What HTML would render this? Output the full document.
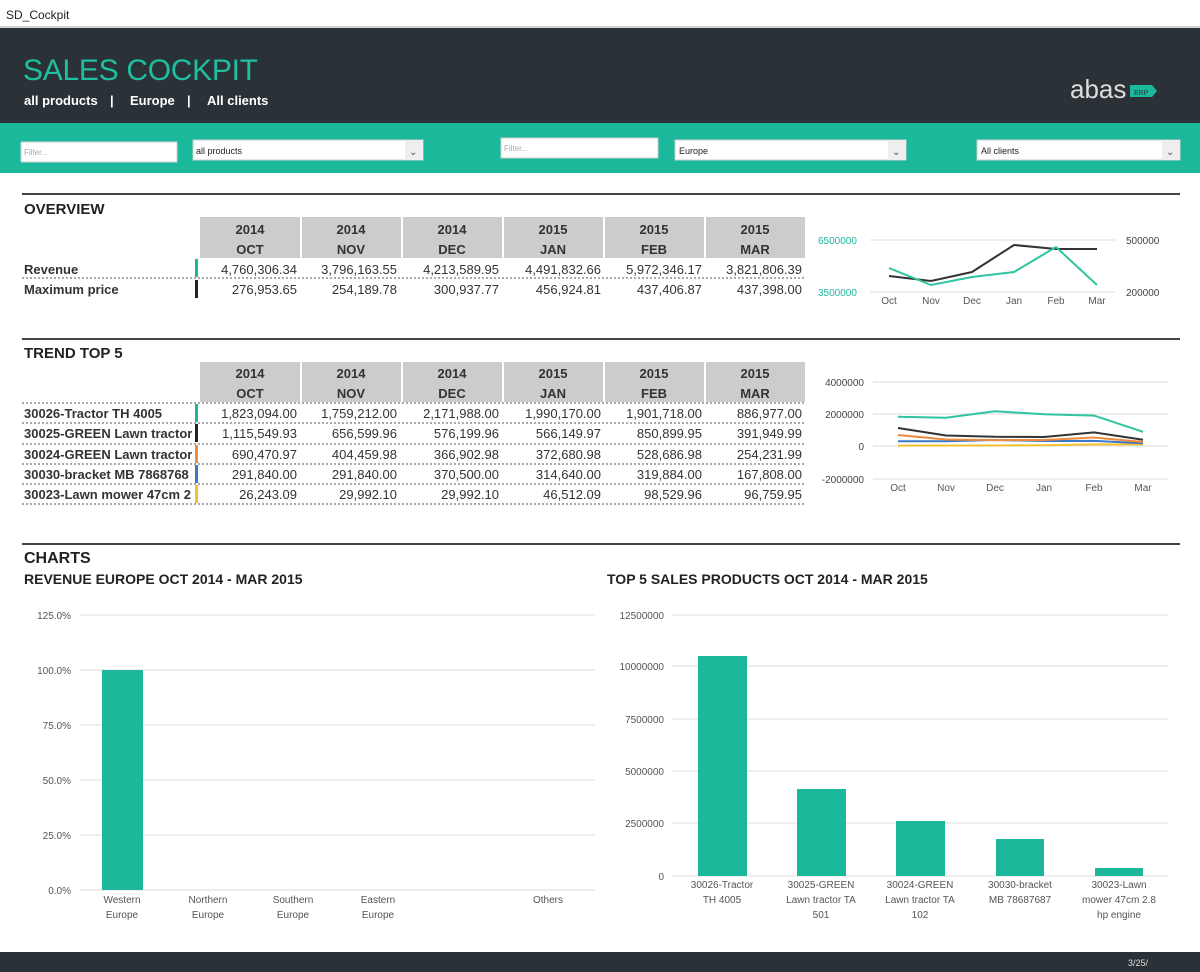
<!DOCTYPE html>
<html><head><meta charset="utf-8"><style>
html,body{margin:0;padding:0;background:#fff;}
svg{display:block;font-family:"Liberation Sans",Arial,sans-serif;}
</style></head><body>
<svg width="1200" height="972" viewBox="0 0 1200 972" xmlns="http://www.w3.org/2000/svg">
<rect x="0" y="0" width="1200" height="27" fill="#fff"/>
<line x1="0" y1="27" x2="1200" y2="27" stroke="#aaa"/>
<text x="6" y="19" font-size="12" fill="#222">SD_Cockpit</text>
<rect x="0" y="28" width="1200" height="95" fill="#2b3237"/>
<text x="23" y="80" font-size="30" fill="#1fbfa0" textLength="235">SALES COCKPIT</text>
<g font-size="13" font-weight="bold" fill="#fff">
<text x="24" y="105">all products</text><text x="110" y="105">|</text><text x="130" y="105">Europe</text><text x="187" y="105">|</text><text x="207" y="105">All clients</text>
</g>
<text x="1070" y="98" font-size="26" fill="#ddd">abas</text>
<path d="M1130 85 h22 l5 6 l-5 6 h-22 z" fill="#1cb89c"/>
<text x="1134" y="95" font-size="7" fill="#2b3237">ERP</text>
<rect x="0" y="123" width="1200" height="50" fill="#1cb89c"/>
<rect x="21" y="142" width="156" height="20" fill="#fff" stroke="#ccc"/>
<text x="24" y="155" font-size="8" fill="#aaa">Filter...</text>
<rect x="193" y="140" width="230" height="20" fill="#fff" stroke="#ccc"/>
<rect x="405" y="140" width="18" height="20" fill="#eee"/><text x="409" y="155" font-size="10" fill="#555">⌄</text>
<text x="196" y="154" font-size="9" fill="#222">all products</text>
<rect x="501" y="138" width="157" height="20" fill="#fff" stroke="#ccc"/>
<text x="504" y="151" font-size="8" fill="#aaa">Filter...</text>
<rect x="675" y="140" width="231" height="20" fill="#fff" stroke="#ccc"/>
<rect x="888" y="140" width="18" height="20" fill="#eee"/><text x="892" y="155" font-size="10" fill="#555">⌄</text>
<text x="679" y="154" font-size="9" fill="#222">Europe</text>
<rect x="977" y="140" width="203" height="20" fill="#fff" stroke="#ccc"/>
<rect x="1162" y="140" width="18" height="20" fill="#eee"/><text x="1166" y="155" font-size="10" fill="#555">⌄</text>
<text x="981" y="154" font-size="9" fill="#222">All clients</text>

<line x1="22" y1="194" x2="1180" y2="194" stroke="#444" stroke-width="2"/>
<text x="24" y="214" font-size="15" font-weight="bold" fill="#222">OVERVIEW</text>
<g fill="#ccc">
<rect x="200" y="217" width="100" height="41"/><rect x="302" y="217" width="99" height="41"/><rect x="403" y="217" width="99" height="41"/><rect x="504" y="217" width="99" height="41"/><rect x="605" y="217" width="99" height="41"/><rect x="706" y="217" width="99" height="41"/>
<rect x="200" y="362" width="100" height="40"/><rect x="302" y="362" width="99" height="40"/><rect x="403" y="362" width="99" height="40"/><rect x="504" y="362" width="99" height="40"/><rect x="605" y="362" width="99" height="40"/><rect x="706" y="362" width="99" height="40"/>
</g>
<g font-size="13" font-weight="bold" fill="#333" text-anchor="middle">
<text x="250" y="234">2014</text><text x="351" y="234">2014</text><text x="452" y="234">2014</text><text x="553" y="234">2015</text><text x="654" y="234">2015</text><text x="755" y="234">2015</text>
<text x="250" y="254">OCT</text><text x="351" y="254">NOV</text><text x="452" y="254">DEC</text><text x="553" y="254">JAN</text><text x="654" y="254">FEB</text><text x="755" y="254">MAR</text>
<text x="250" y="378">2014</text><text x="351" y="378">2014</text><text x="452" y="378">2014</text><text x="553" y="378">2015</text><text x="654" y="378">2015</text><text x="755" y="378">2015</text>
<text x="250" y="398">OCT</text><text x="351" y="398">NOV</text><text x="452" y="398">DEC</text><text x="553" y="398">JAN</text><text x="654" y="398">FEB</text><text x="755" y="398">MAR</text>
</g>
<g font-size="13" font-weight="bold" fill="#333">
<text x="24" y="274">Revenue</text><text x="24" y="294">Maximum price</text>
</g>
<rect x="195" y="259" width="3" height="18" fill="#1cb89c"/><rect x="195" y="280" width="3" height="18" fill="#222"/>
<line x1="22" y1="278" x2="805" y2="278" stroke="#555" stroke-dasharray="2,2"/>
<g font-size="13" fill="#333" text-anchor="end">
<text x="297" y="274">4,760,306.34</text><text x="397" y="274">3,796,163.55</text><text x="499" y="274">4,213,589.95</text><text x="601" y="274">4,491,832.66</text><text x="702" y="274">5,972,346.17</text><text x="802" y="274">3,821,806.39</text>
<text x="297" y="294">276,953.65</text><text x="397" y="294">254,189.78</text><text x="499" y="294">300,937.77</text><text x="601" y="294">456,924.81</text><text x="702" y="294">437,406.87</text><text x="802" y="294">437,398.00</text>
</g>
<line x1="870" y1="240" x2="1115" y2="240" stroke="#ddd"/>
<line x1="870" y1="292" x2="1115" y2="292" stroke="#ddd"/>
<text x="818" y="244" font-size="10" fill="#1cb89c">6500000</text>
<text x="818" y="296" font-size="10" fill="#1cb89c">3500000</text>
<text x="1126" y="244" font-size="10" fill="#444">500000</text>
<text x="1126" y="296" font-size="10" fill="#444">200000</text>
<g font-size="10" fill="#555" text-anchor="middle">
<text x="889" y="304">Oct</text><text x="931" y="304">Nov</text><text x="972" y="304">Dec</text><text x="1014" y="304">Jan</text><text x="1056" y="304">Feb</text><text x="1097" y="304">Mar</text>
</g>
<polyline points="889,276 931,281 972,272 1014,245 1056,249 1097,249" fill="none" stroke="#333" stroke-width="2"/>
<polyline points="889,268 931,285 972,277 1014,272 1056,247 1097,285" fill="none" stroke="#2ec4a0" stroke-width="2"/>

<line x1="22" y1="339" x2="1180" y2="339" stroke="#444" stroke-width="2"/>
<text x="24" y="358" font-size="15" font-weight="bold" fill="#222">TREND TOP 5</text>
<g stroke="#555" stroke-dasharray="2,2">
<line x1="22" y1="403" x2="805" y2="403"/><line x1="22" y1="423" x2="805" y2="423"/><line x1="22" y1="444" x2="805" y2="444"/><line x1="22" y1="464" x2="805" y2="464"/><line x1="22" y1="484" x2="805" y2="484"/><line x1="22" y1="504" x2="805" y2="504"/>
</g>
<rect x="195" y="404" width="3" height="18" fill="#1cb89c"/><rect x="195" y="424" width="3" height="18" fill="#222"/><rect x="195" y="445" width="3" height="18" fill="#f08a3c"/><rect x="195" y="465" width="3" height="18" fill="#3a78c9"/><rect x="195" y="485" width="3" height="18" fill="#f2c12e"/>
<g font-size="13" font-weight="bold" fill="#333">
<text x="24" y="418">30026-Tractor TH 4005</text><text x="24" y="438">30025-GREEN Lawn tractor</text><text x="24" y="459">30024-GREEN Lawn tractor</text><text x="24" y="479">30030-bracket MB 7868768</text><text x="24" y="499">30023-Lawn mower 47cm 2</text>
</g>
<g font-size="13" fill="#333" text-anchor="end">
<text x="297" y="418">1,823,094.00</text><text x="397" y="418">1,759,212.00</text><text x="499" y="418">2,171,988.00</text><text x="601" y="418">1,990,170.00</text><text x="702" y="418">1,901,718.00</text><text x="802" y="418">886,977.00</text>
<text x="297" y="438">1,115,549.93</text><text x="397" y="438">656,599.96</text><text x="499" y="438">576,199.96</text><text x="601" y="438">566,149.97</text><text x="702" y="438">850,899.95</text><text x="802" y="438">391,949.99</text>
<text x="297" y="459">690,470.97</text><text x="397" y="459">404,459.98</text><text x="499" y="459">366,902.98</text><text x="601" y="459">372,680.98</text><text x="702" y="459">528,686.98</text><text x="802" y="459">254,231.99</text>
<text x="297" y="479">291,840.00</text><text x="397" y="479">291,840.00</text><text x="499" y="479">370,500.00</text><text x="601" y="479">314,640.00</text><text x="702" y="479">319,884.00</text><text x="802" y="479">167,808.00</text>
<text x="297" y="499">26,243.09</text><text x="397" y="499">29,992.10</text><text x="499" y="499">29,992.10</text><text x="601" y="499">46,512.09</text><text x="702" y="499">98,529.96</text><text x="802" y="499">96,759.95</text>
</g>
<g stroke="#ddd"><line x1="873" y1="382" x2="1168" y2="382"/><line x1="873" y1="414" x2="1168" y2="414"/><line x1="873" y1="446" x2="1168" y2="446"/><line x1="873" y1="479" x2="1168" y2="479"/></g>
<g font-size="10" fill="#444" text-anchor="end">
<text x="864" y="386">4000000</text><text x="864" y="418">2000000</text><text x="864" y="450">0</text><text x="864" y="483">-2000000</text>
</g>
<g font-size="10" fill="#555" text-anchor="middle">
<text x="898" y="491">Oct</text><text x="946" y="491">Nov</text><text x="995" y="491">Dec</text><text x="1044" y="491">Jan</text><text x="1094" y="491">Feb</text><text x="1143" y="491">Mar</text>
</g>
<g fill="none" stroke-width="2">
<polyline points="898,445.6 946,445.5 995,445.5 1044,445.3 1094,444.4 1143,444.4" stroke="#f2c12e"/>
<polyline points="898,441.3 946,441.3 995,440 1044,441 1094,440.9 1143,443.3" stroke="#3a78c9"/>
<polyline points="898,435 946,439.5 995,440.1 1044,440 1094,437.5 1143,442" stroke="#f08a3c"/>
<polyline points="898,428 946,435.5 995,436.8 1044,437 1094,432.4 1143,439.7" stroke="#333"/>
<polyline points="898,416.8 946,417.8 995,411.3 1044,414.2 1094,415.6 1143,431.8" stroke="#2ec4a0"/>
</g>

<line x1="22" y1="544" x2="1180" y2="544" stroke="#444" stroke-width="2"/>
<text x="24" y="563" font-size="16" font-weight="bold" fill="#222">CHARTS</text>
<text x="24" y="584" font-size="14" font-weight="bold" fill="#222">REVENUE EUROPE OCT 2014 - MAR 2015</text>
<text x="607" y="584" font-size="14" font-weight="bold" fill="#222">TOP 5 SALES PRODUCTS OCT 2014 - MAR 2015</text>
<g stroke="#ddd"><line x1="80" y1="615" x2="595" y2="615"/><line x1="80" y1="670" x2="595" y2="670"/><line x1="80" y1="725" x2="595" y2="725"/><line x1="80" y1="780" x2="595" y2="780"/><line x1="80" y1="835" x2="595" y2="835"/><line x1="80" y1="890" x2="595" y2="890"/></g>
<g font-size="10" fill="#555" text-anchor="end">
<text x="71" y="619">125.0%</text><text x="71" y="674">100.0%</text><text x="71" y="729">75.0%</text><text x="71" y="784">50.0%</text><text x="71" y="839">25.0%</text><text x="71" y="894">0.0%</text>
</g>
<rect x="102" y="670" width="41" height="220" fill="#1cb89c"/>
<g font-size="10" fill="#555" text-anchor="middle">
<text x="122" y="903">Western</text><text x="122" y="918">Europe</text>
<text x="208" y="903">Northern</text><text x="208" y="918">Europe</text>
<text x="293" y="903">Southern</text><text x="293" y="918">Europe</text>
<text x="378" y="903">Eastern</text><text x="378" y="918">Europe</text>
<text x="548" y="903">Others</text>
</g>
<g stroke="#ddd"><line x1="672" y1="615" x2="1168" y2="615"/><line x1="672" y1="666" x2="1168" y2="666"/><line x1="672" y1="719" x2="1168" y2="719"/><line x1="672" y1="771" x2="1168" y2="771"/><line x1="672" y1="823" x2="1168" y2="823"/><line x1="672" y1="876" x2="1168" y2="876"/></g>
<g font-size="10" fill="#555" text-anchor="end">
<text x="664" y="619">12500000</text><text x="664" y="670">10000000</text><text x="664" y="723">7500000</text><text x="664" y="775">5000000</text><text x="664" y="827">2500000</text><text x="664" y="880">0</text>
</g>
<g fill="#1cb89c">
<rect x="698" y="656" width="49" height="220"/><rect x="797" y="789" width="49" height="87"/><rect x="896" y="821" width="49" height="55"/><rect x="996" y="839" width="48" height="37"/><rect x="1095" y="868" width="48" height="8"/>
</g>
<g font-size="10" fill="#555" text-anchor="middle">
<text x="722" y="888">30026-Tractor</text><text x="722" y="903">TH 4005</text>
<text x="821" y="888">30025-GREEN</text><text x="821" y="903">Lawn tractor TA</text><text x="821" y="918">501</text>
<text x="920" y="888">30024-GREEN</text><text x="920" y="903">Lawn tractor TA</text><text x="920" y="918">102</text>
<text x="1020" y="888">30030-bracket</text><text x="1020" y="903">MB 78687687</text>
<text x="1119" y="888">30023-Lawn</text><text x="1119" y="903">mower 47cm 2.8</text><text x="1119" y="918">hp engine</text>
</g>
<rect x="0" y="952" width="1200" height="20" fill="#2b3237"/>
<text x="1128" y="966" font-size="9" fill="#ddd">3/25/</text>
</svg>
</body></html>
